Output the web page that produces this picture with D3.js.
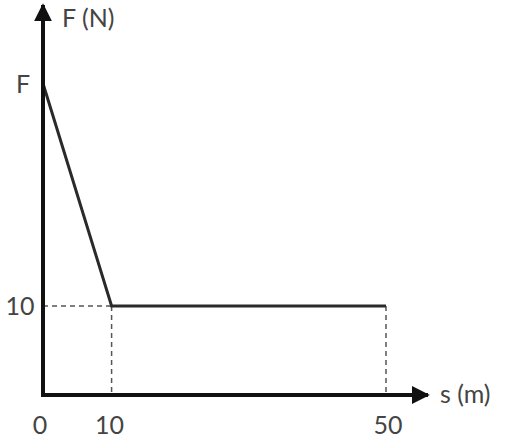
<!DOCTYPE html>
<html>
<head>
<meta charset="utf-8">
<script src="https://cdn.jsdelivr.net/npm/d3@7"></script>
<style>
  body { margin: 0; background: #fff; }
  text { font-family: Lato, "Open Sans", sans-serif; fill: #444; }
</style>
</head>
<body>
<svg id="chart" width="512" height="448"></svg>
<script>
// force vs distance
var sValues = [0, 10, 50];
var fValues = [35, 10, 10];
var xTicks = [0, 10, 50];
var yTickLabels = ['F', '10'];
var yTickValues = [35, 10];

var svg = d3.select('#chart');

var x = d3.scaleLinear().domain([0, 50]).range([43, 386]);
var y = d3.scaleLinear().domain([0, 10]).range([395, 306]);

var defs = svg.append('defs');
defs.append('marker')
    .attr('id', 'arrow')
    .attr('viewBox', '0 0 10 10')
    .attr('refX', 9)
    .attr('refY', 5)
    .attr('markerWidth', 4.5)
    .attr('markerHeight', 4.5)
    .attr('orient', 'auto')
  .append('path')
    .attr('d', 'M0,0L10,5L0,10z')
    .attr('fill', '#111');

// dashed guides
var guides = svg.append('g')
    .attr('stroke', '#555')
    .attr('stroke-width', 1.5)
    .attr('stroke-dasharray', '5,4')
    .attr('fill', 'none');

guides.append('line')
    .attr('x1', x(0)).attr('x2', x(sValues[1]))
    .attr('y1', y(fValues[1])).attr('y2', y(fValues[1]));

guides.selectAll('.vguide')
  .data(sValues.slice(1))
  .enter().append('line')
    .attr('class', 'vguide')
    .attr('x1', function(d) { return x(d); })
    .attr('x2', function(d) { return x(d); })
    .attr('y1', y(10))
    .attr('y2', y(0));

// the graph line
var line = d3.line()
    .x(function(d, i) { return x(sValues[i]); })
    .y(function(d) { return y(d); });

svg.append('path')
    .datum(fValues)
    .attr('d', line)
    .attr('fill', 'none')
    .attr('stroke', '#2a2a2a')
    .attr('stroke-width', 3);

// axes with arrows
svg.append('line')
    .attr('x1', x(0)).attr('y1', y(0))
    .attr('x2', 428).attr('y2', y(0))
    .attr('stroke', '#111')
    .attr('stroke-width', 4)
    .attr('marker-end', 'url(#arrow)');

svg.append('line')
    .attr('x1', x(0)).attr('y1', y(0) + 2)
    .attr('x2', x(0)).attr('y2', 5)
    .attr('stroke', '#111')
    .attr('stroke-width', 4)
    .attr('marker-end', 'url(#arrow)');

// tick labels
svg.selectAll('.xlabel')
  .data(xTicks)
  .enter().append('text')
    .attr('class', 'xlabel')
    .attr('x', function(d) { return x(d) - (d === 0 ? 3 : 0) + (d === 50 ? 2 : 0) - (d === 10 ? 2 : 0); })
    .attr('y', 434)
    .attr('text-anchor', 'middle')
    .attr('font-size', 25)
    .text(function(d) { return d; });

svg.selectAll('.ylabel')
  .data(yTickValues)
  .enter().append('text')
    .attr('class', 'ylabel')
    .attr('x', function(d, i) { return i === 0 ? 23 : 20; })
    .attr('y', function(d) { return y(d) + 9; })
    .attr('text-anchor', 'middle')
    .attr('font-size', 25)
    .text(function(d, i) { return yTickLabels[i]; });

// axis titles
svg.append('text')
    .attr('x', 62).attr('y', 27)
    .attr('font-size', 25)
    .text('F (N)');

svg.append('text')
    .attr('x', 440).attr('y', 403)
    .attr('font-size', 25)
    .text('s (m)');
</script>
</body>
</html>
